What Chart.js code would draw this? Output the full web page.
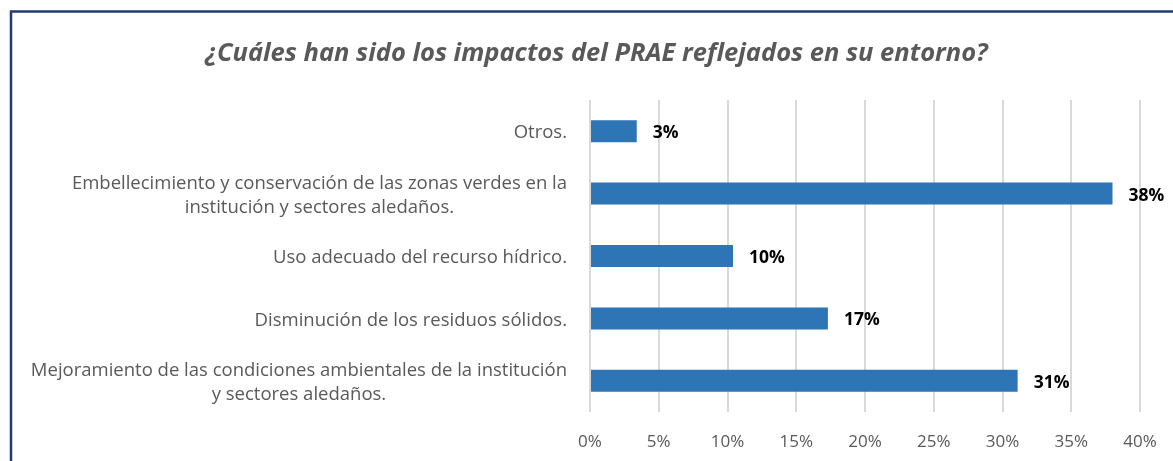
<!DOCTYPE html>
<html>
<head>
<meta charset="utf-8">
<script src="https://cdn.jsdelivr.net/npm/chart.js@4"></script>
<style>
  body { margin: 0; background: #fff; }
  #wrap { width: 1173px; height: 461px; }
</style>
</head>
<body>
<div id="wrap"><canvas id="my-chart" width="1173" height="461"></canvas></div>
<script>
const ctx = document.querySelector('#my-chart').getContext('2d')

//  Data

const categories = [
    ['Otros.'],
    ['Embellecimiento y conservación de las zonas verdes en la', 'institución y sectores aledaños.'],
    ['Uso adecuado del recurso hídrico.'],
    ['Disminución de los residuos sólidos.'],
    ['Mejoramiento de las condiciones ambientales de la institución', 'y sectores aledaños.']
]
const values = [3.4, 38.0, 10.4, 17.3, 31.1]
const xTicks = [0, 5, 10, 15, 20, 25, 30, 35, 40]

const titleText = '¿Cuáles han sido los impactos del PRAE reflejados en su entorno?'
const fontName = '"Open Sans", sans-serif'
const gray = '#595959'

//  Plugins: frame, category labels, value labels

const framePlugin = {
    id: 'frame',
    beforeDraw(chart) {
        const c = chart.ctx
        c.save()
        c.fillStyle = '#fff'
        c.fillRect(0, 0, chart.width, chart.height)
        c.strokeStyle = '#1F3A73'
        c.lineWidth = 2.5
        c.beginPath()
        c.moveTo(11, chart.height + 5)
        c.lineTo(11, 11.5)
        c.lineTo(chart.width + 5, 11.5)
        c.stroke()
        c.restore()
    }
}

const catLabelPlugin = {
    id: 'catLabels',
    afterDraw(chart) {
        const c = chart.ctx
        const y = chart.scales.y
        const right = 567
        const lh = 24
        c.save()
        c.font = '18.5px ' + fontName
        c.fillStyle = gray
        c.textAlign = 'center'
        c.textBaseline = 'middle'
        categories.forEach((lines, i) => {
            const cy = y.getPixelForValue(i) + 2
            const w = Math.max(...lines.map(l => c.measureText(l).width))
            const cx = right - w / 2
            const top = cy - (lines.length - 1) * lh / 2
            lines.forEach((l, j) => c.fillText(l, cx, top + j * lh))
        })
        c.restore()
    }
}

const valueLabelPlugin = {
    id: 'valueLabels',
    afterDatasetsDraw(chart) {
        const c = chart.ctx
        const meta = chart.getDatasetMeta(0)
        c.save()
        c.font = 'bold 17.5px ' + fontName
        c.fillStyle = '#000'
        c.textAlign = 'left'
        c.textBaseline = 'middle'
        meta.data.forEach((bar, i) => {
            c.fillText(Math.round(values[i]) + '%', bar.x + 16, bar.y + 2)
        })
        c.restore()
    }
}

//  Chart

const data = {
    labels: categories,
    datasets: [{
        data: values,
        backgroundColor: '#2E75B6',
        borderWidth: 0,
        barPercentage: 0.353,
        categoryPercentage: 1
    }]
}

const config = {
    type: 'bar',
    data: data,
    options: {
        indexAxis: 'y',
        responsive: false,
        animation: false,
        layout: { padding: { left: 53, right: 33, top: 0, bottom: 0 } },
        plugins: {
            legend: { display: false },
            tooltip: { enabled: false },
            title: {
                display: true,
                text: titleText,
                color: gray,
                font: { family: fontName, size: 25.5, style: 'italic', weight: 'bold', lineHeight: 1.2 },
                padding: { top: 38, bottom: 31.4 }
            }
        },
        scales: {
            x: {
                min: 0,
                max: 40,
                afterBuildTicks: (scale) => { scale.ticks = xTicks.map(v => ({ value: v })) },
                ticks: {
                    color: gray,
                    font: { family: fontName, size: 17 },
                    padding: 20,
                    callback: (v) => v + '%'
                },
                grid: { color: '#D9D9D9', lineWidth: 2, drawTicks: false },
                border: { display: false },
                afterFit: (scale) => {
                    scale.height = 49
                    scale.paddingLeft = 0
                    scale.paddingRight = 0
                }
            },
            y: {
                ticks: { display: false },
                grid: { display: false },
                border: { display: false },
                afterFit: (scale) => { scale.width = 537 }
            }
        }
    },
    plugins: [framePlugin, catLabelPlugin, valueLabelPlugin]
}

const myChart = new Chart(ctx, config)
</script>
</body>
</html>
